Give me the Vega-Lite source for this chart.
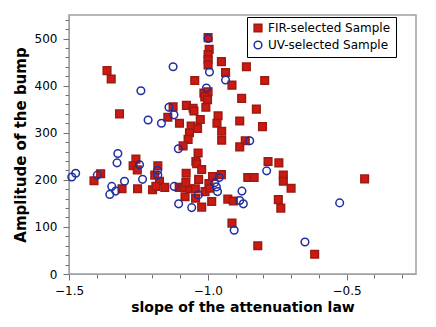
{
  "$schema": "https://vega.github.io/schema/vega-lite/v6.json",
  "width": 347,
  "height": 259,
  "autosize": {"type": "none"},
  "padding": {"left": 69, "top": 15, "right": 20, "bottom": 53},
  "config": {
    "font": "DejaVu Sans",
    "view": {"stroke": "#a0a0a0", "strokeWidth": 1.5},
    "axis": {"grid": false, "domainColor": "#a0a0a0", "tickColor": "#707070", "labelColor": "#000", "titleColor": "#000", "labelFontSize": 12, "titleFontWeight": "bold"}
  },
  "data": {"values": [
    {"s":"FIR-selected Sample","x":-0.999,"y":502},{"s":"FIR-selected Sample","x":-0.995,"y":477},{"s":"FIR-selected Sample","x":-0.999,"y":466},{"s":"FIR-selected Sample","x":-0.999,"y":455},{"s":"FIR-selected Sample","x":-0.999,"y":444},{"s":"FIR-selected Sample","x":-0.951,"y":451},{"s":"FIR-selected Sample","x":-1.363,"y":432},{"s":"FIR-selected Sample","x":-1.348,"y":414},{"s":"FIR-selected Sample","x":-1.047,"y":411},{"s":"FIR-selected Sample","x":-0.936,"y":428},{"s":"FIR-selected Sample","x":-0.861,"y":440},{"s":"FIR-selected Sample","x":-0.913,"y":401},{"s":"FIR-selected Sample","x":-0.795,"y":411},{"s":"FIR-selected Sample","x":-1.014,"y":384},{"s":"FIR-selected Sample","x":-0.999,"y":387},{"s":"FIR-selected Sample","x":-1.011,"y":376},{"s":"FIR-selected Sample","x":-1.001,"y":370},{"s":"FIR-selected Sample","x":-1.007,"y":354},{"s":"FIR-selected Sample","x":-0.878,"y":373},{"s":"FIR-selected Sample","x":-0.825,"y":350},{"s":"FIR-selected Sample","x":-1.318,"y":340},{"s":"FIR-selected Sample","x":-1.125,"y":355},{"s":"FIR-selected Sample","x":-1.077,"y":358},{"s":"FIR-selected Sample","x":-1.053,"y":352},{"s":"FIR-selected Sample","x":-1.050,"y":346},{"s":"FIR-selected Sample","x":-1.144,"y":333},{"s":"FIR-selected Sample","x":-1.102,"y":320},{"s":"FIR-selected Sample","x":-1.027,"y":328},{"s":"FIR-selected Sample","x":-0.963,"y":336},{"s":"FIR-selected Sample","x":-0.967,"y":320},{"s":"FIR-selected Sample","x":-0.885,"y":325},{"s":"FIR-selected Sample","x":-0.803,"y":313},{"s":"FIR-selected Sample","x":-1.060,"y":314},{"s":"FIR-selected Sample","x":-1.037,"y":309},{"s":"FIR-selected Sample","x":-1.066,"y":300},{"s":"FIR-selected Sample","x":-0.950,"y":303},{"s":"FIR-selected Sample","x":-1.071,"y":286},{"s":"FIR-selected Sample","x":-0.950,"y":284},{"s":"FIR-selected Sample","x":-0.865,"y":283},{"s":"FIR-selected Sample","x":-0.885,"y":270},{"s":"FIR-selected Sample","x":-1.089,"y":272},{"s":"FIR-selected Sample","x":-1.259,"y":244},{"s":"FIR-selected Sample","x":-1.269,"y":230},{"s":"FIR-selected Sample","x":-1.254,"y":221},{"s":"FIR-selected Sample","x":-1.180,"y":230},{"s":"FIR-selected Sample","x":-1.191,"y":210},{"s":"FIR-selected Sample","x":-1.174,"y":197},{"s":"FIR-selected Sample","x":-1.035,"y":257},{"s":"FIR-selected Sample","x":-1.043,"y":239},{"s":"FIR-selected Sample","x":-1.040,"y":234},{"s":"FIR-selected Sample","x":-1.022,"y":222},{"s":"FIR-selected Sample","x":-1.078,"y":214},{"s":"FIR-selected Sample","x":-1.033,"y":201},{"s":"FIR-selected Sample","x":-1.386,"y":213},{"s":"FIR-selected Sample","x":-1.410,"y":198},{"s":"FIR-selected Sample","x":-1.309,"y":181},{"s":"FIR-selected Sample","x":-1.253,"y":181},{"s":"FIR-selected Sample","x":-1.199,"y":179},{"s":"FIR-selected Sample","x":-1.187,"y":186},{"s":"FIR-selected Sample","x":-1.155,"y":184},{"s":"FIR-selected Sample","x":-1.103,"y":184},{"s":"FIR-selected Sample","x":-1.086,"y":184},{"s":"FIR-selected Sample","x":-1.065,"y":181},{"s":"FIR-selected Sample","x":-1.045,"y":181},{"s":"FIR-selected Sample","x":-1.079,"y":194},{"s":"FIR-selected Sample","x":-1.082,"y":164},{"s":"FIR-selected Sample","x":-1.044,"y":161},{"s":"FIR-selected Sample","x":-1.022,"y":142},{"s":"FIR-selected Sample","x":-1.010,"y":175},{"s":"FIR-selected Sample","x":-0.996,"y":192},{"s":"FIR-selected Sample","x":-0.983,"y":207},{"s":"FIR-selected Sample","x":-0.951,"y":211},{"s":"FIR-selected Sample","x":-0.986,"y":154},{"s":"FIR-selected Sample","x":-0.928,"y":159},{"s":"FIR-selected Sample","x":-0.908,"y":155},{"s":"FIR-selected Sample","x":-0.913,"y":108},{"s":"FIR-selected Sample","x":-0.820,"y":60},{"s":"FIR-selected Sample","x":-0.856,"y":205},{"s":"FIR-selected Sample","x":-0.833,"y":205},{"s":"FIR-selected Sample","x":-0.783,"y":239},{"s":"FIR-selected Sample","x":-0.744,"y":236},{"s":"FIR-selected Sample","x":-0.728,"y":210},{"s":"FIR-selected Sample","x":-0.728,"y":197},{"s":"FIR-selected Sample","x":-0.700,"y":182},{"s":"FIR-selected Sample","x":-0.746,"y":158},{"s":"FIR-selected Sample","x":-0.737,"y":140},{"s":"FIR-selected Sample","x":-0.615,"y":42},{"s":"FIR-selected Sample","x":-0.435,"y":202},{"s":"FIR-selected Sample","x":-0.993,"y":182},
    {"s":"UV-selected Sample","x":-0.999,"y":500},{"s":"UV-selected Sample","x":-0.994,"y":429},{"s":"UV-selected Sample","x":-0.936,"y":412},{"s":"UV-selected Sample","x":-1.005,"y":395},{"s":"UV-selected Sample","x":-1.125,"y":440},{"s":"UV-selected Sample","x":-1.241,"y":389},{"s":"UV-selected Sample","x":-1.140,"y":354},{"s":"UV-selected Sample","x":-1.122,"y":338},{"s":"UV-selected Sample","x":-1.215,"y":327},{"s":"UV-selected Sample","x":-1.167,"y":320},{"s":"UV-selected Sample","x":-0.849,"y":283},{"s":"UV-selected Sample","x":-1.106,"y":266},{"s":"UV-selected Sample","x":-1.324,"y":256},{"s":"UV-selected Sample","x":-1.327,"y":236},{"s":"UV-selected Sample","x":-1.246,"y":232},{"s":"UV-selected Sample","x":-1.181,"y":220},{"s":"UV-selected Sample","x":-1.180,"y":210},{"s":"UV-selected Sample","x":-1.476,"y":214},{"s":"UV-selected Sample","x":-1.490,"y":206},{"s":"UV-selected Sample","x":-1.398,"y":210},{"s":"UV-selected Sample","x":-1.300,"y":197},{"s":"UV-selected Sample","x":-1.235,"y":201},{"s":"UV-selected Sample","x":-1.346,"y":186},{"s":"UV-selected Sample","x":-1.332,"y":176},{"s":"UV-selected Sample","x":-1.353,"y":169},{"s":"UV-selected Sample","x":-1.121,"y":186},{"s":"UV-selected Sample","x":-1.105,"y":149},{"s":"UV-selected Sample","x":-1.058,"y":141},{"s":"UV-selected Sample","x":-1.034,"y":168},{"s":"UV-selected Sample","x":-0.975,"y":194},{"s":"UV-selected Sample","x":-0.969,"y":185},{"s":"UV-selected Sample","x":-0.965,"y":175},{"s":"UV-selected Sample","x":-0.959,"y":205},{"s":"UV-selected Sample","x":-0.877,"y":176},{"s":"UV-selected Sample","x":-0.885,"y":156},{"s":"UV-selected Sample","x":-0.872,"y":149},{"s":"UV-selected Sample","x":-0.905,"y":93},{"s":"UV-selected Sample","x":-0.788,"y":219},{"s":"UV-selected Sample","x":-0.650,"y":68},{"s":"UV-selected Sample","x":-0.525,"y":151}
  ]},
  "mark": {"type": "point", "size": 58, "strokeWidth": 1.5, "opacity": 1},
  "encoding": {
    "x": {
      "field": "x", "type": "quantitative",
      "scale": {"domain": [-1.5, -0.25], "nice": false, "zero": false},
      "axis": {
        "title": "slope of the attenuation law", "titleFontSize": 14, "titlePadding": 4,
        "values": [-1.5,-1.4,-1.3,-1.2,-1.1,-1.0,-0.9,-0.8,-0.7,-0.6,-0.5,-0.4,-0.3],
        "labelExpr": "abs(round(datum.value*10)) % 5 == 0 ? format(datum.value, '.1f') : ''",
        "tickSize": {"condition": {"test": "abs(round(datum.value*10)) % 5 == 0", "value": 6}, "value": 4},
        "labelPadding": 5, "labelFlush": false, "labelOverlap": false
      }
    },
    "y": {
      "field": "y", "type": "quantitative",
      "scale": {"domain": [0, 550], "nice": false},
      "axis": {
        "title": "Amplitude of the bump", "titleFontSize": 15, "titlePadding": 6,
        "values": [0,20,40,60,80,100,120,140,160,180,200,220,240,260,280,300,320,340,360,380,400,420,440,460,480,500,520,540],
        "labelExpr": "datum.value % 100 == 0 ? datum.label : ''",
        "tickSize": {"condition": {"test": "datum.value % 100 == 0", "value": 6}, "value": 4},
        "labelPadding": 6, "labelOverlap": false
      }
    },
    "shape": {"field": "s", "type": "nominal", "scale": {"domain": ["FIR-selected Sample", "UV-selected Sample"], "range": ["square", "circle"]}, "legend": {"title": null, "orient": "none", "legendX": 178, "legendY": 2, "strokeColor": "#000", "fillColor": "#fff", "padding": 5, "labelFontSize": 12, "symbolSize": 60, "rowPadding": 3, "labelOffset": 4}},
    "fill": {"field": "s", "type": "nominal", "scale": {"domain": ["FIR-selected Sample", "UV-selected Sample"], "range": ["#cc1a10", "transparent"]}, "legend": {"title": null, "orient": "none", "legendX": 178, "legendY": 2, "strokeColor": "#000", "fillColor": "#fff", "padding": 5, "labelFontSize": 12, "symbolSize": 60, "rowPadding": 3, "labelOffset": 4}},
    "stroke": {"field": "s", "type": "nominal", "scale": {"domain": ["FIR-selected Sample", "UV-selected Sample"], "range": ["#9c1a14", "#1f2fa0"]}, "legend": {"title": null, "orient": "none", "legendX": 178, "legendY": 2, "strokeColor": "#000", "fillColor": "#fff", "padding": 5, "labelFontSize": 12, "symbolSize": 60, "rowPadding": 3, "labelOffset": 4}}
  }
}
